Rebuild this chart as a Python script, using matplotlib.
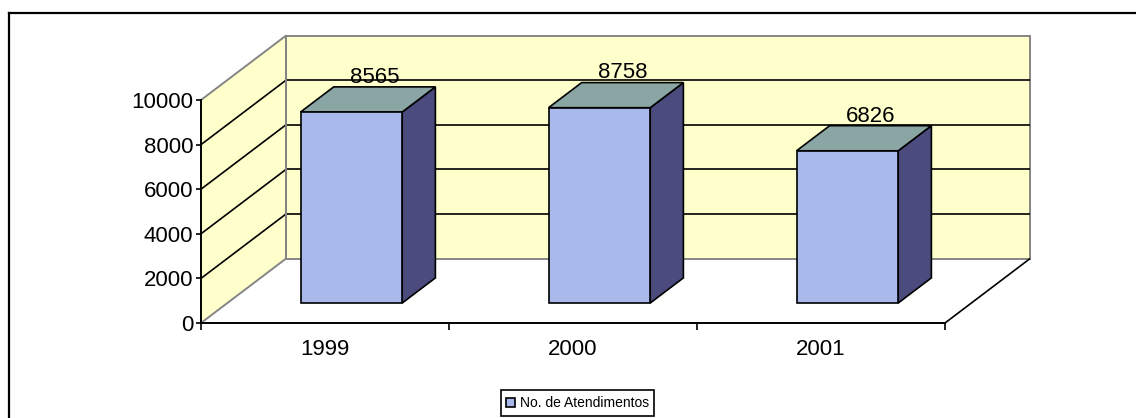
import matplotlib
matplotlib.use("Agg")
import matplotlib.pyplot as plt
from matplotlib.patches import Patch
from matplotlib.lines import Line2D

plt.rcParams['font.family'] = ['Liberation Sans', 'DejaVu Sans']

# ---- data ----
categories = ['1999', '2000', '2001']
values = [8565, 8758, 6826]
y_ticks = [0, 2000, 4000, 6000, 8000, 10000]
legend_label = 'No. de Atendimentos'

# ---- style ----
FRONT = '#A9B9EB'
SIDE = '#4B4B7E'
TOP = '#8AA6A4'
WALL = '#FFFFCC'
WALL_EDGE = '#858585'
LW = 1.2

W, H = 1136, 418
fig = plt.figure(figsize=(W / 100, H / 100), dpi=100)
fig.patch.set_facecolor('white')

# front plane of the 3-D box
ax = fig.add_axes([201 / W, 95 / H, 744 / W, 223 / H])
ax.set_xlim(0, len(categories))
ax.set_ylim(0, 10000)
ax.patch.set_visible(False)

# depth vector in data units (full depth of the box)
DX, DY = 0.343, 2890


def p(x, v, d):
    return x + d * DX, v + d * DY


def poly(pts, **kw):
    xs = [q[0] for q in pts]
    ys = [q[1] for q in pts]
    ax.fill(xs, ys, clip_on=False, **kw)


def line(a, b, **kw):
    ax.plot([a[0], b[0]], [a[1], b[1]], clip_on=False, solid_capstyle='butt', **kw)


n = len(categories)
vmax = y_ticks[-1]

# side wall
poly([p(0, 0, 0), p(0, 0, 1), p(0, vmax, 1), p(0, vmax, 0)], facecolor=WALL, edgecolor='none', zorder=1)
# back wall
poly([p(0, 0, 1), p(n, 0, 1), p(n, vmax, 1), p(0, vmax, 1)], facecolor=WALL, edgecolor=WALL_EDGE, linewidth=1.4, zorder=1)

# gridlines
for v in y_ticks[1:-1]:
    line(p(0, v, 0), p(0, v, 1), color='black', linewidth=LW, zorder=2)
    line(p(0, v, 1), p(n, v, 1), color='black', linewidth=LW, zorder=2)

# side wall edges (grey)
line(p(0, vmax, 0), p(0, vmax, 1), color=WALL_EDGE, linewidth=1.4, zorder=2)
line(p(0, 0, 0), p(0, 0, 1), color=WALL_EDGE, linewidth=1.4, zorder=2)
line(p(0, 0, 1), p(0, vmax, 1), color=WALL_EDGE, linewidth=1.4, zorder=2)
# floor right edge
line(p(n, 0, 0), p(n, 0, 1), color='black', linewidth=LW, zorder=2)

# bars
hw, d0, d1 = 0.205, 0.31, 0.70
for i, v in enumerate(values):
    c = i + 0.5
    poly([p(c + hw, 0, d0), p(c + hw, 0, d1), p(c + hw, v, d1), p(c + hw, v, d0)],
         facecolor=SIDE, edgecolor='black', linewidth=LW, zorder=3)
    poly([p(c - hw, v, d0), p(c + hw, v, d0), p(c + hw, v, d1), p(c - hw, v, d1)],
         facecolor=TOP, edgecolor='black', linewidth=LW, zorder=3)
    poly([p(c - hw, 0, d0), p(c + hw, 0, d0), p(c + hw, v, d0), p(c - hw, v, d0)],
         facecolor=FRONT, edgecolor='black', linewidth=LW, zorder=4)
    lx = p(c, v, 0.58)[0]
    ly = p(c, v, d1)[1]
    ax.annotate(str(v), xy=(lx, ly), xytext=(0, 3), textcoords='offset points',
                ha='center', va='baseline', fontsize=16, zorder=6, annotation_clip=False)

# axes / ticks
for s in ['top', 'right']:
    ax.spines[s].set_visible(False)
for s in ['left', 'bottom']:
    ax.spines[s].set_color('black')
    ax.spines[s].set_linewidth(1.4)
    ax.spines[s].set_zorder(5)
ax.set_yticks(y_ticks)
ax.set_yticklabels([str(t) for t in y_ticks])
ax.tick_params(axis='y', direction='out', length=3.6, width=1.2, pad=2.0, labelsize=16, colors='black')
ax.set_xticks(range(n + 1))
ax.set_xticklabels([''] * (n + 1))
ax.tick_params(axis='x', which='major', direction='out', length=5, width=1.2)
ax.set_xticks([i + 0.5 for i in range(n)], minor=True)
ax.set_xticklabels(categories, minor=True)
ax.tick_params(axis='x', which='minor', length=0, pad=11.5, labelsize=16)

# legend
handle = Patch(facecolor=FRONT, edgecolor='black', linewidth=1.2)
leg = fig.legend([handle], [legend_label], loc='center',
                 bbox_to_anchor=(577.5 / W, (H - 403) / H), fontsize=10,
                 handlelength=0.6, handleheight=0.6, handletextpad=0.35,
                 borderpad=0.4, borderaxespad=0, fancybox=False, framealpha=1)
leg.get_frame().set_edgecolor('black')
leg.get_frame().set_linewidth(1.2)

# outer chart frame (left & top edges visible)
fig.add_artist(Line2D([9 / W, 9 / W], [-0.1, (H - 13) / H], transform=fig.transFigure, color='black', linewidth=1.6))
fig.add_artist(Line2D([9 / W, 1.1], [(H - 13) / H, (H - 13) / H], transform=fig.transFigure, color='black', linewidth=1.6))

fig.savefig('out.png', dpi=100, facecolor='white')
